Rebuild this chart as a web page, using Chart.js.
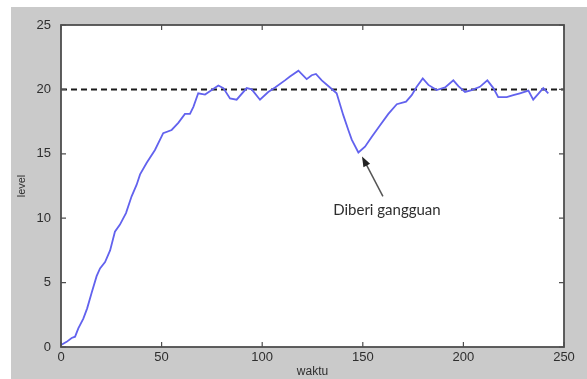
<!DOCTYPE html>
<html>
<head>
<meta charset="utf-8">
<script src="https://cdn.jsdelivr.net/npm/chart.js@4"></script>
<style>
  html, body { margin: 0; padding: 0; background: #ffffff; }
  #panel { position: absolute; left: 11px; top: 7px; width: 576px; height: 372px; background: #cacaca; }
</style>
</head>
<body>
<div id="panel"><canvas id="chart" width="576" height="372"></canvas></div>
<script>
// Data -----------------------------------------------------------------------------------

var timeValues = [0, 2.8, 5.3, 7, 8.6, 11.1, 13, 15.2, 17.7, 19.4, 21.9, 24.4, 26.8, 29.3, 32.3,
    35.1, 37.6, 39.3, 42.6, 46.7, 50.8, 55, 58.3, 61.6, 64.1, 65.8, 68.2, 71.6, 74.9, 78.2,
    80.7, 84, 87.3, 92.3, 94.8, 98.9, 103, 106.4, 111.3, 113.8, 118, 122.1, 124.6, 126.7, 129.6,
    133.7, 137, 140.3, 142.8, 144.5, 147.8, 151.1, 154.4, 158.5, 162.7, 166.9, 171.5, 174.3, 176.8,
    179.8, 182.6, 186.7, 190.9, 195, 197.5, 200.8, 204.1, 208.2, 211.9, 214.9, 217.3, 221.5, 224.8,
    228.1, 232.3, 234.7, 239.7, 242.2];
var levelValues = [0.15, 0.4, 0.7, 0.8, 1.45, 2.2, 3.0, 4.2, 5.5, 6.1, 6.6, 7.5, 8.95, 9.5, 10.4,
    11.7, 12.6, 13.4, 14.3, 15.3, 16.6, 16.85, 17.4, 18.1, 18.1, 18.65, 19.7, 19.6, 19.95, 20.3,
    20.1, 19.3, 19.2, 20.1, 20.0, 19.2, 19.8, 20.15, 20.7, 21.0, 21.45, 20.8, 21.1, 21.2, 20.7,
    20.15, 19.7, 18.0, 16.85, 16.1, 15.1, 15.55, 16.3, 17.2, 18.1, 18.85, 19.05, 19.55, 20.2,
    20.85, 20.35, 19.95, 20.15, 20.7, 20.25, 19.8, 19.95, 20.2, 20.7, 20.1, 19.4, 19.4, 19.55,
    19.7, 19.9, 19.2, 20.1, 19.7];

var setpointTimes = [0, 250];
var setpointValues = [20, 20];

var xTicks = [0, 50, 100, 150, 200, 250];
var yTicks = [0, 5, 10, 15, 20, 25];

var xTitle = 'waktu';
var yTitle = 'level';
var noteText = 'Diberi gangguan';
// arrow in data units: tail then tip
var noteArrow = [160, 11.7, 149.6, 14.8];
var notePos = [162, 10.6];

// Constants ------------------------------------------------------------------------------

var LINE_COLOR = '#6262ee';
var AXIS_COLOR = '#4e4e4e';
var TEXT_COLOR = '#2e2e2e';
var TICK_FONT = { family: "'Liberation Sans', Arial, sans-serif", size: 13 };

// Functions ------------------------------------------------------------------------------

function toPoints(xs, ys) {
    return xs.map(function (x, i) { return { x: x, y: ys[i] }; });
}

var boxPlugin = {
    id: 'box',
    beforeDatasetsDraw: function (c) {
        var a = c.chartArea, ctx = c.ctx;
        ctx.save();
        ctx.fillStyle = '#ffffff';
        ctx.fillRect(a.left, a.top, a.right - a.left, a.bottom - a.top);
        ctx.restore();
    },
    afterDatasetsDraw: function (c) {
        var a = c.chartArea, ctx = c.ctx;
        var xs = c.scales.x, ys = c.scales.y;
        ctx.save();
        ctx.strokeStyle = AXIS_COLOR;
        ctx.lineWidth = 1.8;
        ctx.strokeRect(a.left, a.top, a.right - a.left, a.bottom - a.top);
        ctx.lineWidth = 1.2;
        ctx.beginPath();
        xTicks.forEach(function (v) {
            var px = xs.getPixelForValue(v);
            ctx.moveTo(px, a.bottom); ctx.lineTo(px, a.bottom - 5);
            ctx.moveTo(px, a.top); ctx.lineTo(px, a.top + 5);
        });
        yTicks.forEach(function (v) {
            var py = ys.getPixelForValue(v);
            ctx.moveTo(a.left, py); ctx.lineTo(a.left + 5, py);
            ctx.moveTo(a.right, py); ctx.lineTo(a.right - 5, py);
        });
        ctx.stroke();

        // annotation arrow
        var x0 = xs.getPixelForValue(noteArrow[0]), y0 = ys.getPixelForValue(noteArrow[1]);
        var x1 = xs.getPixelForValue(noteArrow[2]), y1 = ys.getPixelForValue(noteArrow[3]);
        var ang = Math.atan2(y1 - y0, x1 - x0);
        ctx.strokeStyle = '#555555';
        ctx.lineWidth = 1.5;
        ctx.beginPath();
        ctx.moveTo(x0, y0);
        ctx.lineTo(x1 - 8 * Math.cos(ang), y1 - 8 * Math.sin(ang));
        ctx.stroke();
        ctx.fillStyle = '#222222';
        ctx.beginPath();
        ctx.moveTo(x1, y1);
        ctx.lineTo(x1 - 11 * Math.cos(ang - 0.35), y1 - 11 * Math.sin(ang - 0.35));
        ctx.lineTo(x1 - 11 * Math.cos(ang + 0.35), y1 - 11 * Math.sin(ang + 0.35));
        ctx.closePath();
        ctx.fill();

        ctx.fillStyle = TEXT_COLOR;
        ctx.font = "15px Lato, 'Open Sans', sans-serif";
        ctx.textAlign = 'center';
        ctx.textBaseline = 'middle';
        ctx.fillText(noteText, xs.getPixelForValue(notePos[0]), ys.getPixelForValue(notePos[1]));
        ctx.restore();
    }
};

function initChart() {
    var context = document.getElementById('chart').getContext('2d');
    new Chart(context, {
        type: 'line',
        data: {
            datasets: [{
                label: 'level',
                data: toPoints(timeValues, levelValues),
                borderColor: LINE_COLOR,
                borderWidth: 1.8,
                pointRadius: 0,
                tension: 0,
                fill: false
            }, {
                label: 'setpoint',
                data: toPoints(setpointTimes, setpointValues),
                borderColor: '#1a1a1a',
                borderWidth: 2,
                borderDash: [6, 4],
                pointRadius: 0,
                fill: false
            }]
        },
        options: {
            responsive: false,
            animation: false,
            layout: { padding: { top: 18, right: 23, left: 0, bottom: 0 } },
            plugins: { legend: { display: false }, tooltip: { enabled: false } },
            scales: {
                x: {
                    type: 'linear',
                    min: 0, max: 250,
                    afterBuildTicks: function (s) { s.ticks = xTicks.map(function (v) { return { value: v }; }); },
                    afterFit: function (s) { s.height = 32; },
                    grid: { display: false, drawTicks: false },
                    border: { display: false },
                    ticks: { color: TEXT_COLOR, font: TICK_FONT, padding: 3, maxRotation: 0 },
                    title: { display: true, text: xTitle, color: TEXT_COLOR, font: { family: TICK_FONT.family, size: 12 }, padding: { top: -2, bottom: 0 } }
                },
                y: {
                    type: 'linear',
                    min: 0, max: 25,
                    afterBuildTicks: function (s) { s.ticks = yTicks.map(function (v) { return { value: v }; }); },
                    afterFit: function (s) { s.width = 50; },
                    grid: { display: false, drawTicks: false },
                    border: { display: false },
                    ticks: { color: TEXT_COLOR, font: TICK_FONT, padding: 10 },
                    title: { display: true, text: yTitle, color: TEXT_COLOR, font: { family: TICK_FONT.family, size: 11 }, padding: { top: 4, bottom: 0 } }
                }
            }
        },
        plugins: [boxPlugin]
    });
}

initChart();
</script>
</body>
</html>
